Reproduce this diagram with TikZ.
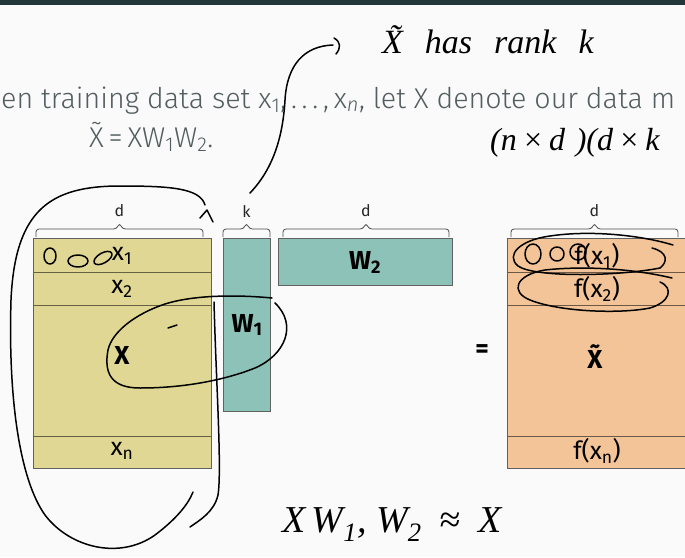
\documentclass[tikz,border=0pt]{standalone}
\usepackage{fontspec}
\setmainfont{Fira Sans}
\newfontfamily\slidefont{Fira Sans Light}
\newfontfamily\handfont{Liberation Serif}
\definecolor{pagebg}{HTML}{FAFAFA}
\definecolor{headbar}{HTML}{23373B}
\definecolor{bodytxt}{HTML}{525E60}
\definecolor{matX}{HTML}{E0D794}
\definecolor{matW}{HTML}{8CC2B8}
\definecolor{matT}{HTML}{F2C498}
\newcommand\dimbrace[4]{% left x, right x, label, node name
  \draw[bracestyle] (#1,237) -- (#1,229) -- ({(#1+#2)/2-3},229) -- ({(#1+#2)/2},223)
        -- ({(#1+#2)/2+3},229) -- (#2,229) -- (#2,237);
  \node[dimlbl] (#4) at ({(#1+#2)/2},211) {#3};}
\tikzset{
  mat/.style={draw=black!62, line width=0.8pt},
  rowline/.style={line width=0.7pt},
  bracestyle/.style={draw=black!70, line width=0.8pt, rounded corners=3pt},
  dimlbl/.style={font=\fontsize{16}{18}\selectfont, text=black!85},
  celllbl/.style={font=\fontsize{25}{28}\selectfont, text=black},
  boldlbl/.style={font=\fontsize{26}{28}\selectfont\bfseries, text=black},
  slidetxt/.style={font=\slidefont\fontsize{28.6}{33}\selectfont, text=bodytxt, anchor=base west, inner sep=0pt},
  ink/.style={draw=black, line width=1.5pt, line cap=round, line join=round},
  handtxt/.style={text=black, inner sep=0pt, anchor=west},
}
\begin{document}
\begin{tikzpicture}[x=1pt, y=-1pt]
\useasboundingbox (0,0) rectangle (685,557);
\clip (0,0) rectangle (685,557);
\fill[pagebg] (0,0) rectangle (685,557);
\fill[headbar] (0,0) rectangle (685,5);

% slide text
\node[slidetxt] (line1) at (1,108) {en training data set x\textsubscript{1},\,.\,.\,.\,,\,x\textsubscript{\itshape n}, let X denote our data m};
\node[slidetxt] (line2) at (89,147) {\~{X}\,=\,XW\textsubscript{1}W\textsubscript{2}.};

% data matrix X
\filldraw[mat, fill=matX] (33,238) rectangle (211,468);
\draw[rowline, draw=matX!45!black] (33,272) -- (211,272) (33,305) -- (211,305) (33,436) -- (211,436);
\node[celllbl] (x1) at (122,256) {x\textsubscript{1}};
\node[celllbl] (x2) at (122,289) {x\textsubscript{2}};
\node[boldlbl] (X) at (122,355) {X};
\node[celllbl] (xn) at (122,451) {x\textsubscript{n}};
\dimbrace{36}{203}{d}{dX}

% W1
\filldraw[mat, fill=matW] (223,238) rectangle (270,411);
\node[boldlbl] (W1) at (247,325) {W\textsubscript{1}};
\dimbrace{223}{270}{k}{kW}

% W2
\filldraw[mat, fill=matW] (278,238) rectangle (452,285);
\node[boldlbl] (W2) at (365,262) {W\textsubscript{2}};
\dimbrace{283}{449}{d}{dW}

\node[font=\fontsize{26}{28}\selectfont\bfseries] (eq) at (482,351) {=};

% reconstruction
\filldraw[mat, fill=matT] (507,238) rectangle (700,468);
\draw[rowline, draw=matT!45!black] (507,272) -- (700,272) (507,305) -- (700,305) (507,436) -- (700,436);
\node[celllbl] (f1) at (597,256) {f(x\textsubscript{1})};
\node[celllbl] (f2) at (597,289) {f(x\textsubscript{2})};
\node[boldlbl] (Xt) at (595,357) {\~{X}};
\node[celllbl] (fn) at (597,451) {f(x\textsubscript{n})};
\dimbrace{511}{678}{d}{dT}

% handwritten notes
\node[handtxt, font=\handfont\itshape\fontsize{34}{38}\selectfont] (rank) at (382,40) {\~{X}\hspace{22pt}has\hspace{22pt}rank\hspace{22pt}k};
\node[handtxt, font=\handfont\itshape\fontsize{32}{36}\selectfont] (dims) at (490,143) {(n\,×\,d\,\,)(d\,×\,k};
\node[handtxt, font=\handfont\itshape\fontsize{38}{42}\selectfont] (approx) at (282,525) {X\,W\textsubscript{1}, W\textsubscript{2}\hspace{18pt}≈\hspace{18pt}X};

% arrow up to the rank note
\draw[ink] (250,193) .. controls (274,168) and (283,135) .. (285,100)
  .. controls (287,65) and (304,46) .. (333,45);
\draw[ink] (334,38) .. controls (341,42) and (341,48) .. (336,54);

% loop around X
\draw[ink] (205,205) .. controls (200,188) and (170,186) .. (120,186)
  .. controls (50,186) and (15,210) .. (11,300)
  .. controls (8,400) and (20,480) .. (45,515)
  .. controls (70,548) and (120,560) .. (155,535)
  .. controls (175,520) and (188,505) .. (193,492);
\draw[ink] (214,302) .. controls (216,380) and (222,470) .. (218,495)
  .. controls (214,512) and (200,520) .. (190,527);
\draw[ink] (200,218) -- (207,210) -- (213,222);

% loop around X and W1
\draw[ink] (272,298) .. controls (230,294) and (190,296) .. (165,304)
  .. controls (135,314) and (112,332) .. (108,350)
  .. controls (104,372) and (110,388) .. (140,388)
  .. controls (190,388) and (230,378) .. (255,368)
  .. controls (285,355) and (298,325) .. (275,303);
\draw[ink] (168,328) -- (177,325);

% scribbles on the first rows
\draw[ink] (50,256) ellipse[x radius=6pt, y radius=8pt];
\draw[ink] (78,261) ellipse[x radius=10pt, y radius=6pt];
\draw[ink, rotate around={30:(103,258)}] (103,258) ellipse[x radius=10pt, y radius=5pt];
\draw[ink] (533,254) ellipse[x radius=8pt, y radius=10pt];
\draw[ink] (557,254) ellipse[x radius=7pt, y radius=7pt];
\draw[ink] (578,252) ellipse[x radius=8pt, y radius=8pt];
\draw[ink] (673,245) .. controls (640,235) and (590,230) .. (550,236)
  .. controls (520,240) and (505,255) .. (518,266)
  .. controls (535,278) and (620,276) .. (660,268)
  .. controls (668,262) and (668,252) .. (652,248);
\draw[ink] (672,278) .. controls (630,268) and (580,266) .. (545,270)
  .. controls (515,275) and (510,292) .. (530,300)
  .. controls (560,312) and (620,314) .. (650,308)
  .. controls (670,302) and (674,288) .. (660,282);
\end{tikzpicture}
\end{document}
